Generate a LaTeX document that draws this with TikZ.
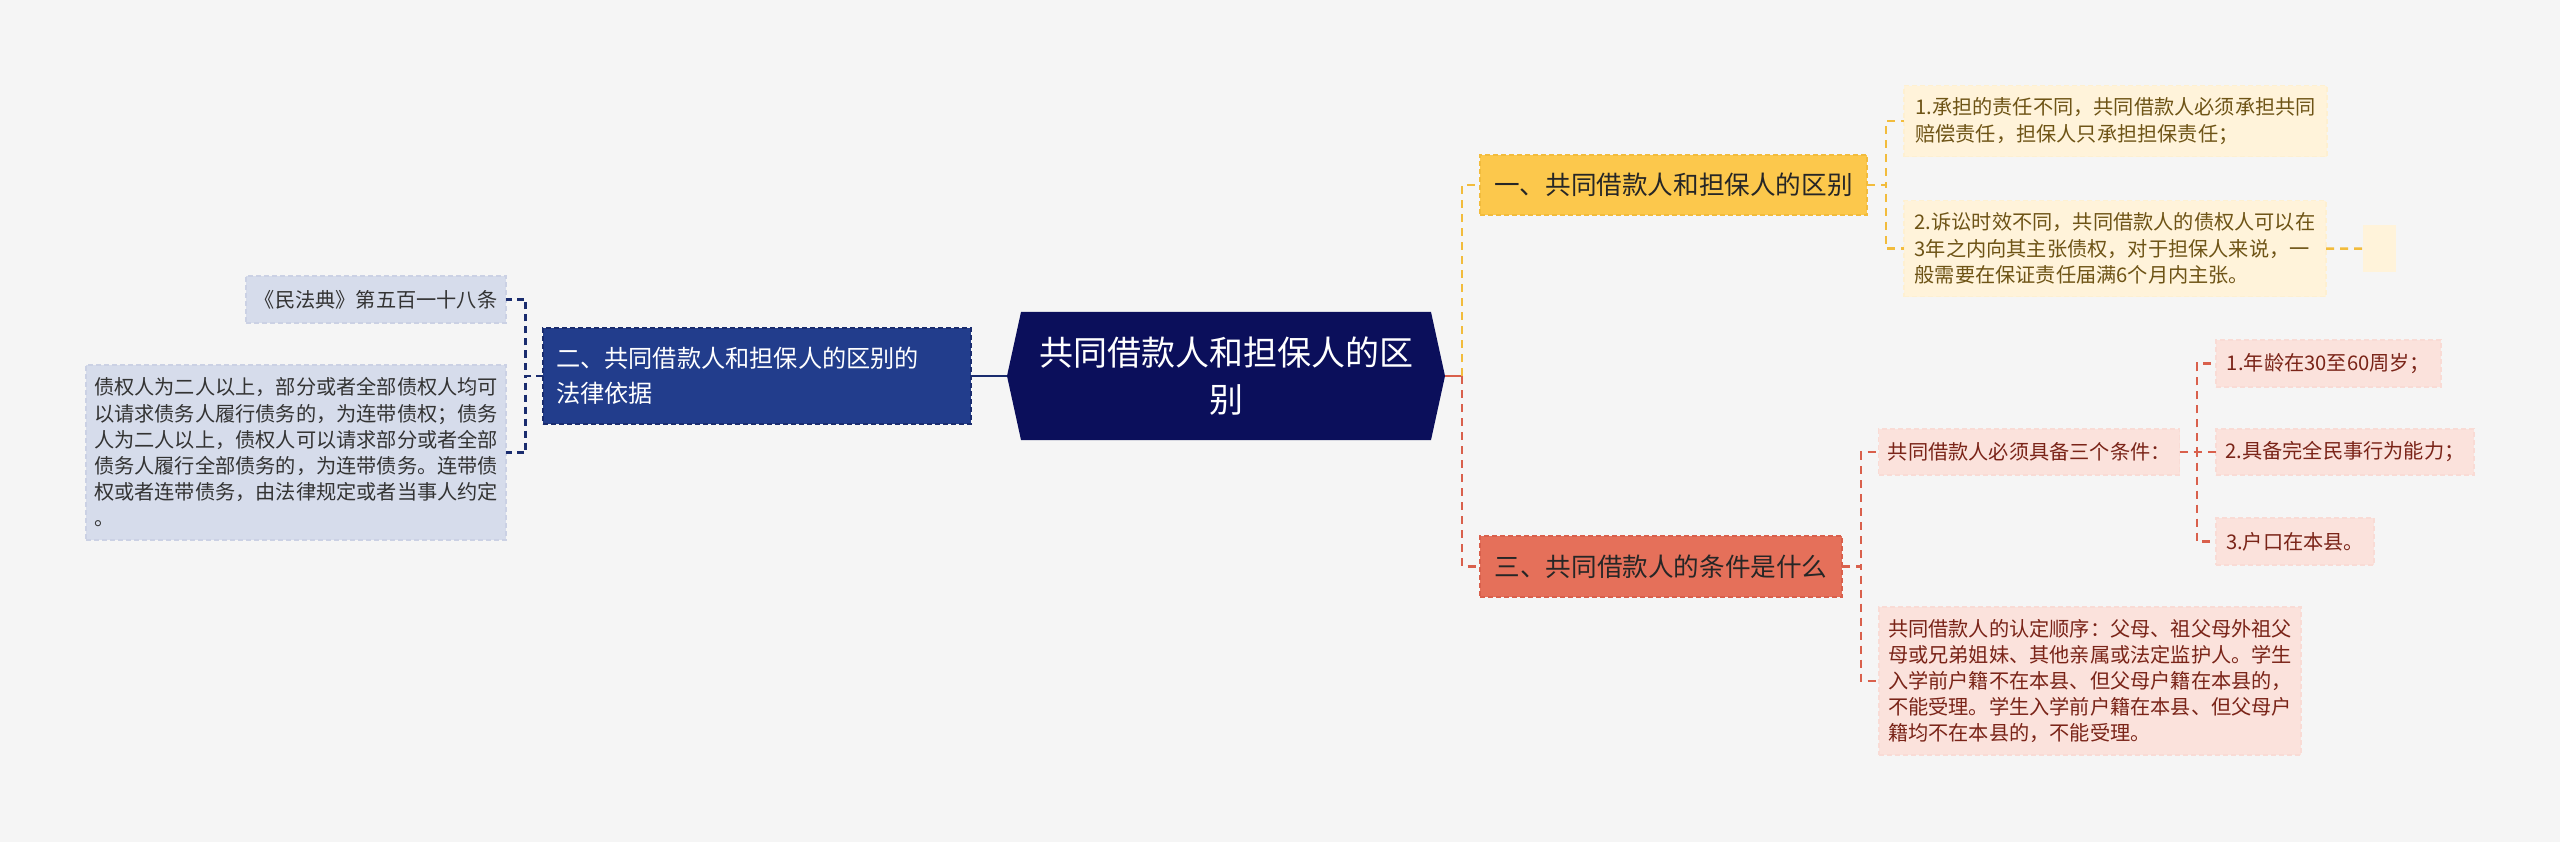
\documentclass[tikz,border=0pt]{standalone}
\usepackage{fontspec}
\setmainfont{Noto Sans CJK SC}
\usepackage{tikz}
\usetikzlibrary{backgrounds}

\definecolor{bgcol}{HTML}{F5F5F5}
\definecolor{rootcol}{HTML}{0B0F5B}
\definecolor{navycol}{HTML}{223D8C}
\definecolor{navyline}{HTML}{1A2C6E}
\definecolor{lleafcol}{HTML}{D6DCEB}
\definecolor{lleafline}{HTML}{CBD1E4}
\definecolor{yellowcol}{HTML}{FCC84C}
\definecolor{yellowline}{HTML}{F2BC3C}
\definecolor{yleafcol}{HTML}{FFF3DA}
\definecolor{ytext}{HTML}{6E5416}
\definecolor{redcol}{HTML}{E5705A}
\definecolor{redline}{HTML}{D9604C}
\definecolor{rleafcol}{HTML}{FBE2DC}
\definecolor{rtext}{HTML}{7A2418}

\begin{document}
\begin{tikzpicture}[x=1pt, y=-1pt,
	every node/.style={inner sep=0pt, outer sep=0pt},
	box/.style={draw, line width=1.2pt, dash pattern=on 5pt off 3pt},
	hauptknoten/.style={text=white, align=center, minimum width=438pt, minimum height=128pt, font=\fontsize{34}{47}\selectfont},
	astL/.style={box, fill=navycol, draw=navyline, text=white, align=left, font=\fontsize{24.2}{35}\selectfont},
	astY/.style={box, fill=yellowcol, draw=yellowline, text=black!85, font=\fontsize{25.6}{35}\selectfont},
	astR/.style={box, fill=redcol, draw=redline, text=black!85, font=\fontsize{25.6}{35}\selectfont},
	blattL/.style={box, fill=lleafcol, draw=lleafline, text=black!80, align=left, font=\fontsize{20.2}{26.2}\selectfont},
	blattY/.style={box, fill=yleafcol, draw=yleafcol!94!yellowline, text=ytext, align=left, font=\fontsize{20.2}{26.6}\selectfont},
	blattR/.style={box, fill=rleafcol, draw=rleafcol!95!redline, text=rtext, align=left, font=\fontsize{20.2}{25.8}\selectfont},
	linkL/.style={draw=navyline, line width=2.2pt, dash pattern=on 7pt off 5pt},
	linkY/.style={draw=yellowline, line width=2.5pt, dash pattern=on 8pt off 6pt},
	linkR/.style={draw=redline, line width=2.5pt, dash pattern=on 8pt off 6pt}]
	\useasboundingbox (0,0) rectangle (2560,842);
	\node[hauptknoten] (Zhuti) at (1226, 376) {共同借款人和担保人的区\\别};
	% linke Seite
	\node[astL, text width=402pt, inner xsep=13pt, minimum height=96pt] (Falv Yiju) at (757, 376) {二、共同借款人和担保人的区别的\\法律依据};
	\node[blattL, align=center, minimum width=260pt, minimum height=47pt] (Minfadian) at (376, 299.5) {《民法典》第五百一十八条};
	\node[blattL, minimum width=420pt, minimum height=175pt] (Zhaiquan) at (296, 452.5) {债权人为二人以上，部分或者全部债权人均可\\以请求债务人履行债务的，为连带债权；债务\\人为二人以上，债权人可以请求部分或者全部\\债务人履行全部债务的，为连带债务。连带债\\权或者连带债务，由法律规定或者当事人约定\\。};
	% rechte Seite, oben
	\node[astY, minimum width=387pt, minimum height=60pt] (Qubie) at (1673.5, 185) {一、共同借款人和担保人的区别};
	\node[blattY, minimum width=423pt, minimum height=71pt] (Zeren) at (2115.5, 121.2) {1.承担的责任不同，共同借款人必须承担共同\\赔偿责任，担保人只承担担保责任；};
	\node[blattY, minimum width=422pt, minimum height=96pt] (Shixiao) at (2115, 248.7) {2.诉讼时效不同，共同借款人的债权人可以在\\3年之内向其主张债权，对于担保人来说，一\\般需要在保证责任届满6个月内主张。};
	\node[fill=yleafcol, minimum width=33pt, minimum height=47pt] (Kong) at (2379, 248.5) {};
	% rechte Seite, unten
	\node[astR, minimum width=362pt, minimum height=61pt] (Tiaojian) at (1661, 566.5) {三、共同借款人的条件是什么};
	\node[blattR, minimum width=301pt, minimum height=46pt] (Sange Tiaojian) at (2029.3, 452) {共同借款人必须具备三个条件：};
	\node[blattR, minimum width=225pt, minimum height=47pt] (Nianling) at (2328.5, 363.5) {1.年龄在30至60周岁；};
	\node[blattR, minimum width=258pt, minimum height=46pt] (Nengli) at (2345, 452) {2.具备完全民事行为能力；};
	\node[blattR, minimum width=158pt, minimum height=47pt] (Hukou) at (2295, 541.5) {3.户口在本县。};
	\node[blattR, minimum width=422pt, minimum height=148pt] (Rending Shunxu) at (2090, 681) {共同借款人的认定顺序：父母、祖父母外祖父\\母或兄弟姐妹、其他亲属或法定监护人。学生\\入学前户籍不在本县、但父母户籍在本县的，\\不能受理。学生入学前户籍在本县、但父母户\\籍均不在本县的，不能受理。};
	\begin{scope}[on background layer]
		\fill[bgcol] (0,0) rectangle (2560,842);
		\fill[rootcol] (Zhuti.west) -- ([xshift=14pt]Zhuti.north west) -- ([xshift=-14pt]Zhuti.north east) -- (Zhuti.east) -- ([xshift=-14pt]Zhuti.south east) -- ([xshift=14pt]Zhuti.south west) -- cycle;
	\end{scope}
	\coordinate (Gabel) at ([xshift=17pt]Zhuti.east);
	\draw[navyline, line width=2.5pt] (Zhuti.west) -- (Falv Yiju.east);
	\draw[linkL] (Falv Yiju.west) -- ++(-17.5,0) |- (Minfadian.east);
	\draw[linkL] (Falv Yiju.west) -- ++(-17.5,0) |- (Zhaiquan.east);
	\draw[redline, line width=2.5pt] (Zhuti.east) -- (Gabel);
	\draw[linkY] (Gabel) |- (Qubie.west);
	\draw[linkR] (Gabel) |- (Tiaojian.west);
	\draw[linkY] (Qubie.east) -- ++(19,0) |- (Zeren.west);
	\draw[linkY] (Qubie.east) -- ++(19,0) |- (Shixiao.west);
	\draw[linkY] (Shixiao.east) -- (Kong.west);
	\draw[linkR] (Tiaojian.east) -- ++(19,0) |- (Sange Tiaojian.west);
	\draw[linkR] (Tiaojian.east) -- ++(19,0) |- (Rending Shunxu.west);
	\draw[linkR] (Sange Tiaojian.east) -- ++(17.4,0) |- (Nianling.west);
	\draw[linkR] (Sange Tiaojian.east) -- ++(17.4,0) |- (Nengli.west);
	\draw[linkR] (Sange Tiaojian.east) -- ++(17.4,0) |- (Hukou.west);
\end{tikzpicture}
\end{document}
